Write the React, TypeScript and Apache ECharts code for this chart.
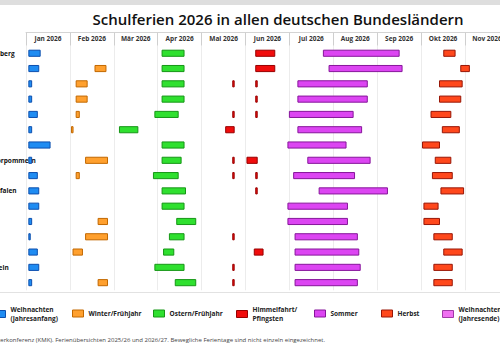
import React, { useEffect, useRef } from "react";
import * as echarts from "echarts";

// Bundesländer, top to bottom
const states = [
  "Baden-Württemberg", "Bayern", "Berlin", "Brandenburg", "Bremen", "Hamburg", "Hessen",
  "Mecklenburg-Vorpommern", "Niedersachsen", "Nordrhein-Westfalen", "Rheinland-Pfalz",
  "Saarland", "Sachsen", "Sachsen-Anhalt", "Schleswig-Holstein", "Thüringen",
];

const months = [
  "Jan 2026", "Feb 2026", "Mär 2026", "Apr 2026", "Mai 2026", "Jun 2026",
  "Jul 2026", "Aug 2026", "Sep 2026", "Okt 2026", "Nov 2026", "Dez 2026",
];
const monthDays = [31, 28, 31, 30, 31, 30, 31, 31, 30, 31, 30, 31];

type Span = [string, string, string]; // [Bundesland, erster Tag, letzter Tag] as MM-DD

const weihnachtenAnfang: Span[] = [
  ["Baden-Württemberg", "01-03", "01-10"], ["Bayern", "01-03", "01-09"],
  ["Berlin", "01-03", "01-04"], ["Brandenburg", "01-03", "01-04"],
  ["Bremen", "01-03", "01-08"], ["Hamburg", "01-03", "01-04"],
  ["Hessen", "01-03", "01-17"], ["Mecklenburg-Vorpommern", "01-03", "01-04"],
  ["Niedersachsen", "01-03", "01-08"], ["Nordrhein-Westfalen", "01-03", "01-09"],
  ["Rheinland-Pfalz", "01-03", "01-09"], ["Saarland", "01-03", "01-04"],
  ["Sachsen", "01-03", "01-03"], ["Sachsen-Anhalt", "01-03", "01-08"],
  ["Schleswig-Holstein", "01-03", "01-09"], ["Thüringen", "01-03", "01-04"],
];

const winter: Span[] = [
  ["Bayern", "02-17", "02-23"], ["Berlin", "02-05", "02-11"], ["Brandenburg", "02-05", "02-11"],
  ["Bremen", "02-05", "02-06"], ["Hamburg", "02-02", "02-02"],
  ["Mecklenburg-Vorpommern", "02-11", "02-24"], ["Niedersachsen", "02-05", "02-06"],
  ["Saarland", "02-19", "02-24"], ["Sachsen", "02-11", "02-24"],
  ["Sachsen-Anhalt", "02-03", "02-08"], ["Thüringen", "02-19", "02-24"],
];

const ostern: Span[] = [
  ["Baden-Württemberg", "04-04", "04-18"], ["Bayern", "04-04", "04-18"],
  ["Berlin", "04-04", "04-18"], ["Brandenburg", "04-04", "04-18"],
  ["Bremen", "03-30", "04-14"], ["Hamburg", "03-05", "03-17"],
  ["Hessen", "04-04", "04-18"], ["Mecklenburg-Vorpommern", "04-04", "04-16"],
  ["Niedersachsen", "03-29", "04-14"], ["Nordrhein-Westfalen", "04-04", "04-19"],
  ["Rheinland-Pfalz", "04-04", "04-18"], ["Saarland", "04-14", "04-26"],
  ["Sachsen", "04-09", "04-18"], ["Sachsen-Anhalt", "04-05", "04-11"],
  ["Schleswig-Holstein", "03-30", "04-18"], ["Thüringen", "04-13", "04-26"],
];

const pfingsten: Span[] = [
  ["Baden-Württemberg", "06-08", "06-20"], ["Bayern", "06-08", "06-20"],
  ["Berlin", "05-23", "05-23"], ["Berlin", "06-08", "06-08"],
  ["Brandenburg", "06-08", "06-08"],
  ["Bremen", "05-23", "05-23"], ["Bremen", "06-08", "06-08"],
  ["Hamburg", "05-18", "05-23"],
  ["Mecklenburg-Vorpommern", "05-23", "05-23"], ["Mecklenburg-Vorpommern", "06-02", "06-08"],
  ["Niedersachsen", "05-23", "05-23"], ["Niedersachsen", "06-08", "06-08"],
  ["Nordrhein-Westfalen", "06-08", "06-08"], ["Sachsen", "05-23", "05-23"],
  ["Sachsen-Anhalt", "06-07", "06-12"], ["Schleswig-Holstein", "05-23", "05-23"],
  ["Thüringen", "05-23", "05-23"],
];

const sommer: Span[] = [
  ["Baden-Württemberg", "07-25", "09-15"], ["Bayern", "07-29", "09-17"],
  ["Berlin", "07-07", "08-24"], ["Brandenburg", "07-07", "08-24"],
  ["Bremen", "07-01", "08-14"], ["Hamburg", "07-07", "08-20"],
  ["Hessen", "06-30", "08-09"], ["Mecklenburg-Vorpommern", "07-14", "08-26"],
  ["Niedersachsen", "07-04", "08-15"], ["Nordrhein-Westfalen", "07-22", "09-07"],
  ["Rheinland-Pfalz", "06-30", "08-10"], ["Saarland", "06-30", "08-10"],
  ["Sachsen", "07-05", "08-17"], ["Sachsen-Anhalt", "07-05", "08-18"],
  ["Schleswig-Holstein", "07-05", "08-19"], ["Thüringen", "07-05", "08-17"],
];

const herbst: Span[] = [
  ["Baden-Württemberg", "10-17", "10-24"], ["Bayern", "10-29", "11-03"],
  ["Berlin", "10-14", "10-29"], ["Brandenburg", "10-14", "10-28"],
  ["Bremen", "10-08", "10-21"], ["Hamburg", "10-16", "10-27"],
  ["Hessen", "10-02", "10-13"], ["Mecklenburg-Vorpommern", "10-11", "10-21"],
  ["Niedersachsen", "10-09", "10-22"], ["Nordrhein-Westfalen", "10-15", "10-30"],
  ["Rheinland-Pfalz", "10-03", "10-12"], ["Saarland", "10-03", "10-13"],
  ["Sachsen", "10-10", "10-22"], ["Sachsen-Anhalt", "10-17", "10-29"],
  ["Schleswig-Holstein", "10-10", "10-22"], ["Thüringen", "10-10", "10-22"],
];

const weihnachtenEnde: Span[] = states.map((s) => [s, "12-23", "12-31"] as Span);

const FONT = "Open Sans";

// position on the month axis: each month occupies one unit
function pos(md: string, isEnd: boolean): number {
  const [m, d] = md.split("-").map(Number);
  return m - 1 + (isEnd ? d : d - 1) / monthDays[m - 1];
}

const holidayTypes = [
  { name: "Weihnachten (Jahresanfang)", rows: weihnachtenAnfang, fill: "#1f8cf2", stroke: "#0d4fae", left: -6, top: 305 },
  { name: "Winter/Frühjahr", rows: winter, fill: "#ffa02e", stroke: "#c26800", left: 72, top: 309 },
  { name: "Ostern/Frühjahr", rows: ostern, fill: "#2fe02f", stroke: "#169616", left: 153, top: 309 },
  { name: "Himmelfahrt/Pfingsten", rows: pfingsten, fill: "#f00c0c", stroke: "#980000", left: 236, top: 305 },
  { name: "Sommer", rows: sommer, fill: "#dc45f2", stroke: "#86169a", left: 314, top: 309 },
  { name: "Herbst", rows: herbst, fill: "#ff481c", stroke: "#981606", left: 381, top: 309 },
  { name: "Weihnachten (Jahresende)", rows: weihnachtenEnde, fill: "#f070f2", stroke: "#a03aa6", left: 442, top: 305 },
];

const legendLabel = (name: string) =>
  name.replace(" (", "\n(").replace("Himmelfahrt/", "Himmelfahrt/\n");

export default function App() {
  const ref = useRef<HTMLDivElement>(null);

  useEffect(() => {
    if (!ref.current) return;
    const chart = echarts.init(ref.current, null, { renderer: "svg" });

    const series = holidayTypes.map((t) => ({
      name: t.name,
      type: "custom" as const,
      xAxisIndex: 0,
      yAxisIndex: 0,
      encode: { x: [1, 2], y: 0 },
      itemStyle: { color: t.fill, borderColor: t.stroke, borderWidth: 1 },
      data: t.rows.map(([st, s, e]) => [states.indexOf(st), pos(s, false), pos(e, true)]),
      renderItem: (_p: any, api: any) => {
        const row = api.value(0);
        const a = api.coord([api.value(1), row]);
        const b = api.coord([api.value(2), row]);
        const h = api.size([0, 1])[1] * 0.4;
        return {
          type: "rect",
          shape: { x: a[0], y: a[1] - h / 2, width: b[0] - a[0], height: h },
          style: { fill: t.fill, stroke: t.stroke, lineWidth: 1 },
        };
      },
    }));

    const legends = holidayTypes.map((t) => ({
      data: [{ name: t.name, icon: "rect", itemStyle: { color: t.fill, borderColor: t.stroke, borderWidth: 1 } }],
      left: t.left,
      top: t.top,
      padding: 0,
      itemWidth: 11,
      itemHeight: 7,
      itemGap: 0,
      selectedMode: false,
      formatter: legendLabel,
      textStyle: { fontFamily: FONT, fontSize: 6.5, lineHeight: 9, fontWeight: "bold", color: "#222" },
    }));

    chart.setOption({
      animation: false,
      backgroundColor: "#ffffff",
      title: {
        text: "Schulferien 2026 in allen deutschen Bundesländern",
        left: 273,
        top: 6,
        textAlign: "center",
        textStyle: { fontFamily: FONT, fontSize: 15, fontWeight: 600, color: "#111" },
      },
      legend: legends,
      grid: {
        left: 26,
        top: 45.6,
        width: 12 * 43.9,
        height: 244.7,
        containLabel: false,
        outerBoundsMode: "none",
      },
      xAxis: [
        {
          type: "value",
          position: "top",
          min: 0,
          max: 12,
          interval: 1,
          axisLabel: { show: false },
          axisTick: { show: false },
          axisLine: { show: false },
          splitLine: { show: true, lineStyle: { color: "#ececec", width: 1 } },
        },
        {
          type: "category",
          position: "top",
          data: months,
          offset: 13,
          boundaryGap: true,
          axisLine: { show: true, lineStyle: { color: "#d4d4d4" } },
          axisTick: { show: true, inside: true, length: 13, lineStyle: { color: "#cfcfcf" } },
          axisLabel: {
            inside: true,
            margin: 6,
            verticalAlign: "middle",
            fontFamily: FONT,
            fontSize: 6.5,
            fontWeight: "bold",
            color: "#333",
          },
          splitLine: { show: false },
        },
      ],
      yAxis: {
        type: "category",
        data: states,
        inverse: true,
        axisLine: { show: false },
        axisTick: { show: false },
        splitLine: { show: false },
        axisLabel: {
          align: "left",
          margin: 78,
          fontFamily: FONT,
          fontSize: 6.5,
          fontWeight: "bold",
          color: "#111",
        },
      },
      graphic: [
        { type: "rect", left: 0, top: 0, shape: { width: 500, height: 5 }, style: { fill: "#dedede" }, silent: true },
        { type: "line", shape: { x1: 0, y1: 292.5, x2: 500, y2: 292.5 }, style: { stroke: "#e2e2e2", lineWidth: 1 }, silent: true },
        {
          type: "text",
          x: 325,
          y: 340,
          style: {
            text: "Quelle: Kultusministerkonferenz (KMK). Ferienübersichten 2025/26 und 2026/27. Bewegliche Ferientage sind nicht einzeln eingezeichnet.",
            align: "right",
            verticalAlign: "middle",
            fontFamily: FONT,
            fontSize: 6,
            fill: "#444",
          },
          silent: true,
        },
      ],
      series,
    });

    return () => chart.dispose();
  }, []);

  return (
    <div
      ref={ref}
      style={{ position: "fixed", left: 0, top: 0, width: 500, height: 350, background: "#fff" }}
    />
  );
}
